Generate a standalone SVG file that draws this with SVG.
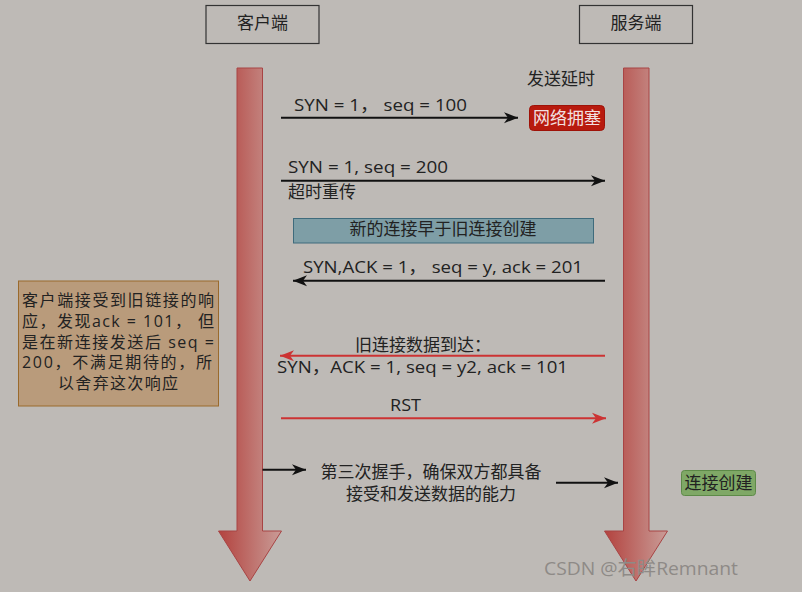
<svg xmlns="http://www.w3.org/2000/svg" width="802" height="592" viewBox="0 0 802 592">
<defs>
<linearGradient id="redg" x1="0" y1="0" x2="1" y2="0">
<stop offset="0" stop-color="#b3423e"/>
<stop offset="1" stop-color="#c99c97"/>
</linearGradient>
<marker id="ab" markerUnits="userSpaceOnUse" markerWidth="16" markerHeight="12" refX="14" refY="6" orient="auto">
<path d="M0,0.5 L14,6 L0,11.5 L4,6 Z" fill="#111"/>
</marker>
<marker id="ar" markerUnits="userSpaceOnUse" markerWidth="16" markerHeight="12" refX="14" refY="6" orient="auto">
<path d="M0,0.5 L14,6 L0,11.5 L4,6 Z" fill="#cc3333"/>
</marker>
</defs>
<style>
text{font-family:"Open Sans","Noto Sans CJK SC",sans-serif;font-size:17px;fill:#222}
.c{text-anchor:middle}
.n{font-size:16px}
.blk{stroke:#111;stroke-width:2;fill:none;marker-end:url(#ab)}
.red{stroke:#cc3333;stroke-width:2;fill:none;marker-end:url(#ar)}
.big{fill:url(#redg);stroke:#a84444;stroke-width:1}
</style>
<rect x="0" y="0" width="802" height="592" fill="#bebab6"/>

<g id="client">
<rect x="206" y="5.5" width="113" height="38" fill="none" stroke="#333" stroke-width="1.2"/>
<text class="c" x="262.5" y="29">客户端</text>
</g>
<g id="server">
<rect x="579.5" y="5.5" width="113" height="38" fill="none" stroke="#333" stroke-width="1.2"/>
<text class="c" x="636" y="29">服务端</text>
</g>

<g id="client-line">
<path class="big" d="M237,68 L262.5,68 L262.5,531 L281.5,531 L250,581 L218.5,531 L237,531 Z"/>
</g>
<g id="server-line">
<path class="big" d="M623.5,68 L649,68 L649,531 L667.5,531 L636,581 L604.5,531 L623.5,531 Z"/>
</g>

<g id="delay">
<text x="527" y="85">发送延时</text>
</g>
<g id="congestion">
<rect x="529.5" y="105.5" width="75" height="25" rx="4" fill="#b81a0e" stroke="#9e1208"/>
<text class="c" x="567" y="123.5" style="fill:#f2e0e0">网络拥塞</text>
</g>
<g id="note-new">
<rect x="293.5" y="218.5" width="300" height="24.5" fill="#7e9ea6" stroke="#3f6b7c"/>
<text class="c" x="443" y="234.5">新的连接早于旧连接创建</text>
</g>
<g id="note-client">
<rect x="18.5" y="281" width="200" height="125" fill="#b99b7b" stroke="#9a6a2c"/>
<text class="n" x="22" y="306" textLength="192" lengthAdjust="spacing">客户端接受到旧链接的响</text>
<text class="n" x="22" y="327" textLength="192" lengthAdjust="spacing">应，发现ack = 101， 但</text>
<text class="n" x="22" y="347.5" textLength="192" lengthAdjust="spacing">是在新连接发送后 seq =</text>
<text class="n" x="22" y="368" textLength="190" lengthAdjust="spacing">200，不满足期待的，所</text>
<text class="n c" x="118" y="389" textLength="120" lengthAdjust="spacing">以舍弃这次响应</text>
</g>
<g id="established">
<rect x="681.5" y="470.5" width="74" height="25" rx="3" fill="#7fa866" stroke="#5d8a48"/>
<text class="c" x="718.5" y="489">连接创建</text>
</g>

<g id="connectors">
<line class="blk" x1="281" y1="117.7" x2="518" y2="117.7"/>
<line class="blk" x1="281" y1="180.7" x2="605" y2="180.7"/>
<line class="blk" x1="605" y1="280.7" x2="293" y2="280.7"/>
<line class="red" x1="605" y1="355.7" x2="280" y2="355.7"/>
<line class="red" x1="281" y1="418.3" x2="606" y2="418.3"/>
<line class="blk" x1="262.5" y1="469.8" x2="306" y2="469.8"/>
<line class="blk" x1="556" y1="482.8" x2="618" y2="482.8"/>
</g>

<g id="labels">
<text x="294" y="111" textLength="173" lengthAdjust="spacingAndGlyphs">SYN = 1， seq = 100</text>
<text x="288" y="173" textLength="160" lengthAdjust="spacingAndGlyphs">SYN = 1, seq = 200</text>
<text x="288" y="197.5">超时重传</text>
<text x="303" y="273" textLength="280" lengthAdjust="spacingAndGlyphs">SYN,ACK = 1，  seq = y, ack = 201</text>
<text x="355" y="350.5">旧连接数据到达：</text>
<text x="277" y="372.5" textLength="291" lengthAdjust="spacingAndGlyphs">SYN，ACK = 1, seq = y2, ack = 101</text>
<text x="390" y="410.7" textLength="31" lengthAdjust="spacingAndGlyphs">RST</text>
<text class="c" x="431" y="478">第三次握手，确保双方都具备</text>
<text class="c" x="431" y="500">接受和发送数据的能力</text>
</g>

<text x="544" y="575" textLength="194" lengthAdjust="spacingAndGlyphs" style="fill:#8e8a87;font-size:19px">CSDN @右眸Remnant</text>
</svg>
